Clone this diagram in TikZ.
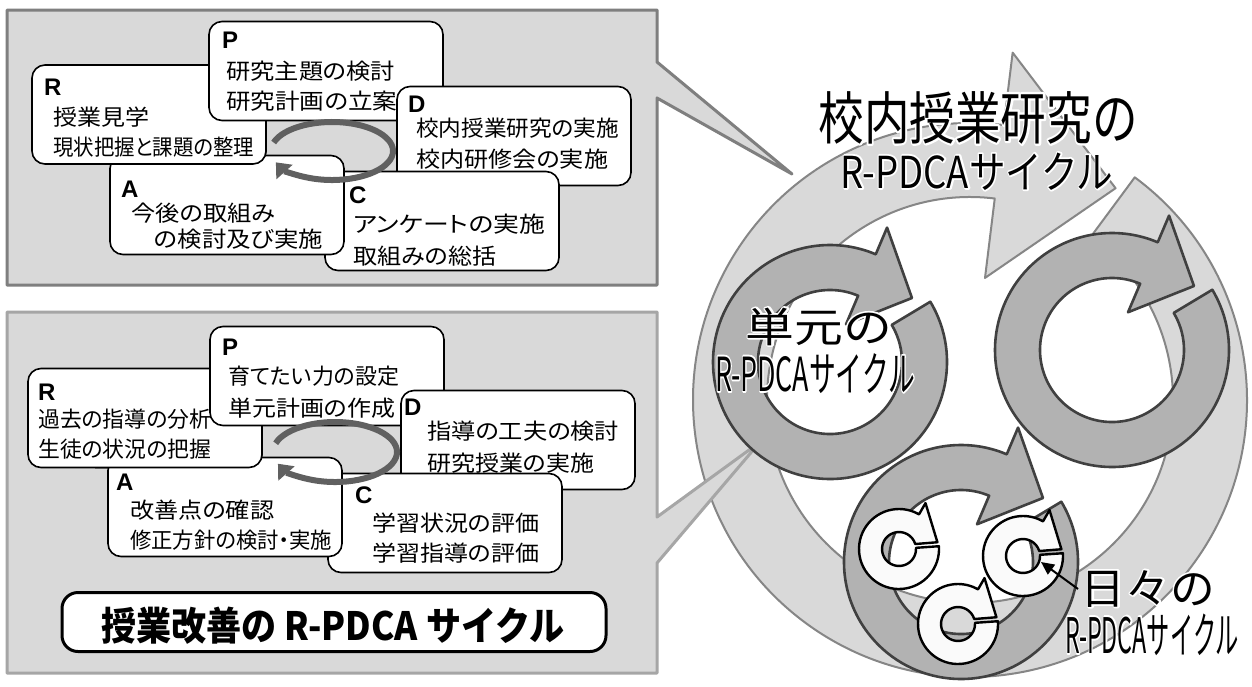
\documentclass[tikz,border=0pt]{standalone}
\usepackage{fontspec}
\usepackage{graphicx}
\newfontfamily\jpbox[RawFeature=+palt]{Noto Sans CJK JP}
\newfontfamily\jpt{Noto Sans CJK JP}
\newfontfamily\jphalo[FakeBold=8]{Noto Sans CJK JP}
\newfontfamily\lat{Liberation Sans}
\usetikzlibrary{arrows.meta}
\definecolor{panelfill}{HTML}{D9D9D9}
\definecolor{panelline}{HTML}{7F7F7F}
\definecolor{panelline2}{HTML}{A6A6A6}
\definecolor{ringlight}{HTML}{D9D9D9}
\definecolor{ringlightline}{HTML}{868686}
\definecolor{ringdark}{HTML}{B2B2B2}
\definecolor{ringdarkline}{HTML}{404040}
\definecolor{arrowgray}{HTML}{606060}
\newcommand\fw[2]{\resizebox{#1pt}{\height}{#2}}
\newcommand\darkring[2]{\path[ringD, shift={(#1,#2)}] (-31:117) arc[start angle=-31,end angle=293,radius=117] -- (293:146) -- (322:104) -- (293:41) -- (293:72) arc[start angle=293,end angle=-31,radius=72] -- cycle;}
\newcommand\smallcyc[2]{\path[ringS, shift={(#1,#2)}] (-4:40) arc[start angle=-4,end angle=300,radius=40] -- (300:53) -- (350:39) -- (343:17) arc[start angle=343,end angle=-4,radius=17] -- cycle;}
\begin{document}
\begin{tikzpicture}[x=1pt,y=-1pt,line join=round,
 cbox/.style={draw=black, fill=white, line width=1.6pt, rounded corners=13pt, minimum width=234pt, minimum height=99pt, inner sep=0pt},
 lett/.style={anchor=base west, inner sep=0pt, font=\lat\bfseries\fontsize{24}{24}\selectfont},
 jtxt/.style={anchor=base west, inner sep=0pt, font=\jpbox\fontsize{22}{24}\selectfont},
 cyc/.style={draw=arrowgray, line width=6pt, -{Triangle[length=13pt,width=21pt]}},
 ringL/.style={fill=ringlight, draw=ringlightline, line width=2pt},
 ringD/.style={fill=ringdark, draw=ringdarkline, line width=2.6pt},
 ringS/.style={fill=gray!4, draw=black, line width=2.4pt},
 panel/.style={fill=panelfill, line width=3pt},
 big/.style={anchor=base, inner sep=0pt},
 halo/.style={anchor=base, inner sep=0pt, text=white}]
\useasboundingbox (0,0) rectangle (1252,686);
\fill[white] (0,0) rectangle (1252,686);
% big light ring
\path[ringL, shift={(970,400)}] (-53.5:277) arc[start angle=-53.5,end angle=277,radius=277] -- (277:350) -- (304.5:257) -- (277:123) -- (277:203) arc[start angle=277,end angle=-53.5,radius=203] -- cycle;
% panels with pointers
\coordinate (tipT) at (792,174);
\path[panel, draw=panelline] (7,10) -- (657,10) -- (657,62) -- (tipT) -- (657,98) -- (657,285) -- (7,285) -- cycle;
\coordinate (tipB) at (760,442);
\path[panel, draw=panelline2] (7,312) -- (657,312) -- (657,517) -- (tipB) -- (657,563) -- (657,673) -- (7,673) -- cycle;
% dark rings
\darkring{830}{362}
\darkring{1112}{350}
\darkring{961}{562}
% small cycles
\smallcyc{899}{549}
\smallcyc{1023}{556}
\smallcyc{958}{624}
% labels right (white halo underneath, black text on top)
\node[halo, font=\jphalo\fontsize{57}{60}\selectfont] (tTitle1h) at (978,139) {\scalebox{0.8}[1]{校内授業研究の}};
\node[big, font=\jpt\fontsize{57}{60}\selectfont] (tTitle1) at (978,139) {\scalebox{0.8}[1]{校内授業研究の}};
\node[halo, font=\jphalo\fontsize{44}{48}\selectfont] (tTitle2h) at (977,188) {\scalebox{0.83}[1]{R-PDCAサイクル}};
\node[big, font=\jpt\fontsize{44}{48}\selectfont] (tTitle2) at (977,188) {\scalebox{0.83}[1]{R-PDCAサイクル}};
\node[halo, font=\jphalo\fontsize{41}{44}\selectfont] (uTitle1h) at (819,342) {\scalebox{1.19}[1]{単元の}};
\node[big, font=\jpt\fontsize{41}{44}\selectfont] (uTitle1) at (819,342) {\scalebox{1.19}[1]{単元の}};
\node[halo, font=\jphalo\fontsize{47}{50}\selectfont] (uTitle2h) at (815,391) {\scalebox{0.57}[1]{R-PDCAサイクル}};
\node[big, font=\jpt\fontsize{47}{50}\selectfont] (uTitle2) at (815,391) {\scalebox{0.57}[1]{R-PDCAサイクル}};
\node[halo, font=\jphalo\fontsize{43}{46}\selectfont] (dTitle1h) at (1148,604) {\scalebox{1.04}[1]{日々の}};
\node[big, font=\jpt\fontsize{43}{46}\selectfont] (dTitle1) at (1148,604) {\scalebox{1.04}[1]{日々の}};
\node[halo, font=\jphalo\fontsize{49}{52}\selectfont] (dTitle2h) at (1152,653) {\scalebox{0.475}[1]{R-PDCAサイクル}};
\node[big, font=\jpt\fontsize{49}{52}\selectfont] (dTitle2) at (1152,653) {\scalebox{0.475}[1]{R-PDCAサイクル}};
\coordinate (dailyFrom) at (1078,589);
\coordinate (dailyTo) at (1041,562);
\draw[line width=2pt,-{Triangle[length=13pt,width=12pt]}] (dailyFrom) -- (dailyTo);
% ---------- top panel boxes ----------
\node[cbox] (tR) at (149,114.5) {};
\node[lett] (tRl) at (44,95) {R};
\node[jtxt] (tR1) at (53,125.5) {\fw{96}{授業見学}};
\node[jtxt] (tR2) at (53,155.5) {\fw{201}{現状把握と課題の整理}};
\node[cbox] (tP) at (326,71) {};
\node[lett] (tPl) at (222,48) {P};
\node[jtxt] (tP1) at (226,79) {\fw{169}{研究主題の検討}};
\node[jtxt] (tP2) at (226,109) {\fw{171}{研究計画の立案}};
\node[cbox] (tD) at (514,136) {};
\node[lett] (tDl) at (408,112) {D};
\node[jtxt] (tD1) at (416,136) {\fw{203}{校内授業研究の実施}};
\node[jtxt] (tD2) at (416,167) {\fw{192}{校内研修会の実施}};
\node[cbox] (tC) at (442,221) {};
\node[lett] (tCl) at (349,203) {C};
\node[jtxt] (tC1) at (353,232) {\fw{192}{アンケートの実施}};
\node[jtxt] (tC2) at (353,264) {\fw{143}{取組みの総括}};
\node[cbox] (tA) at (227,205) {};
\node[lett] (tAl) at (121,197) {A};
\node[jtxt] (tA1) at (131,221) {\fw{144}{今後の取組み}};
\node[jtxt] (tA2) at (154,247) {\fw{169}{の検討及び実施}};
\begin{scope}
\clip (100,150) rectangle (350,262);
\node[cbox] (tRagain) at (149,114.5) {};
\node[jtxt] (tR2again) at (53,155.5) {\fw{201}{現状把握と課題の整理}};
\end{scope}
\coordinate (tCyc) at (332,151);
\draw[cyc] (tCyc) ++(197:61 and 29) arc[start angle=197, end angle=517, x radius=61, y radius=29];
% ---------- bottom panel boxes ----------
\node[cbox] (bR) at (145,418) {};
\node[lett] (bRl) at (38,400) {R};
\node[jtxt] (bR1) at (38,427) {\fw{173}{過去の指導の分析}};
\node[jtxt] (bR2) at (38,457) {\fw{173}{生徒の状況の把握}};
\node[cbox] (bP) at (327,376) {};
\node[lett] (bPl) at (222,355) {P};
\node[jtxt] (bP1) at (228,384) {\fw{171}{育てたい力の設定}};
\node[jtxt] (bP2) at (228,416) {\fw{167}{単元計画の作成}};
\node[cbox] (bD) at (518,440) {};
\node[lett] (bDl) at (404,415) {D};
\node[jtxt] (bD1) at (427,439) {\fw{192}{指導の工夫の検討}};
\node[jtxt] (bD2) at (427,471) {\fw{167}{研究授業の実施}};
\node[cbox] (bC) at (445,523) {};
\node[lett] (bCl) at (355,503) {C};
\node[jtxt] (bC1) at (372,531) {\fw{167}{学習状況の評価}};
\node[jtxt] (bC2) at (372,561) {\fw{167}{学習指導の評価}};
\node[cbox] (bA) at (225,507) {};
\node[lett] (bAl) at (116,490) {A};
\node[jtxt] (bA1) at (130,518.5) {\fw{144}{改善点の確認}};
\node[jtxt] (bA2) at (130,548.5) {\fw{202}{修正方針の検討・実施}};
\begin{scope}
\clip (95,452) rectangle (350,565);
\node[cbox] (bRagain) at (145,418) {};
\node[jtxt] (bR2again) at (38,457) {\fw{173}{生徒の状況の把握}};
\end{scope}
\coordinate (bCyc) at (335,452);
\draw[cyc] (bCyc) ++(197:62 and 30) arc[start angle=197, end angle=517, x radius=62, y radius=30];
% title box
\node[draw=black, fill=white, line width=3pt, rounded corners=16pt, minimum width=544pt, minimum height=59pt, inner sep=0pt] (titleBox) at (334,622) {};
\node[anchor=base, inner sep=0pt, font=\jpt\bfseries\fontsize{39}{42}\selectfont] (titleText) at (333,640) {\scalebox{0.9}[1]{授業改善の R-PDCA サイクル}};
\end{tikzpicture}
\end{document}
